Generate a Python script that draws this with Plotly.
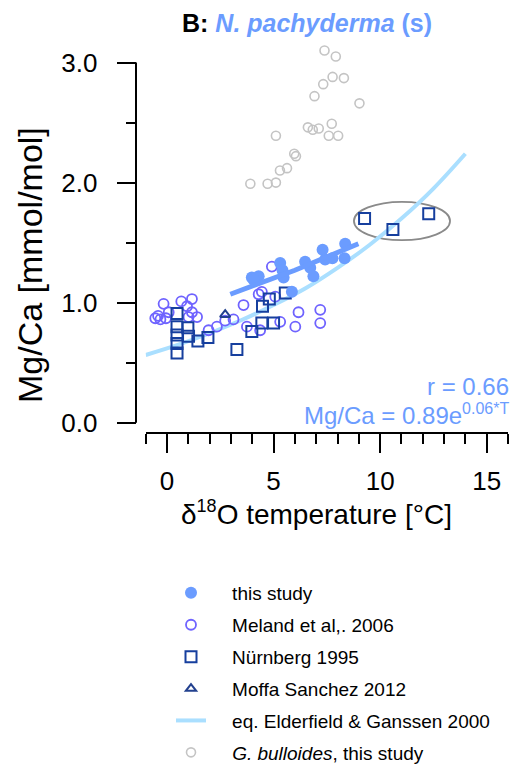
import plotly.graph_objects as go

# ---------------- data ----------------
this_study_T = [3.98, 4.30, 4.06, 5.31, 5.42, 5.47, 6.48, 6.72, 6.87, 7.30, 7.42, 7.76, 8.36, 8.33, 5.86]
this_study_MgCa = [1.21, 1.22, 1.19, 1.33, 1.27, 1.21, 1.34, 1.29, 1.22, 1.44, 1.36, 1.37, 1.49, 1.37, 1.09]

fit_T = [2.97, 6.0, 8.98]
fit_MgCa = [1.07, 1.27, 1.49]

meland_T = [-0.42, -0.55, -0.16, -0.31, 0.08, -0.05, 0.67, 1.17, 0.94, 1.17, 1.41, 1.01,
            1.95, 2.34, 2.73, 3.12, 3.59, 3.75, 4.45, 4.37, 5.31, 6.17, 6.02, 7.19, 7.19,
            4.92, 4.30, 5.08]
meland_MgCa = [0.89, 0.87, 0.99, 0.86, 0.92, 0.87, 1.01, 1.03, 0.97, 0.92, 0.88, 0.88,
               0.77, 0.80, 0.85, 0.86, 0.98, 0.80, 1.09, 0.77, 0.84, 0.92, 0.80, 0.94, 0.83,
               1.30, 1.07, 1.05]

nurnberg_T = [0.47, 0.47, 0.47, 0.47, 0.47, 0.98, 1.01, 1.45, 1.92, 3.28, 3.98, 4.45,
              5.00, 4.48, 4.80, 5.55, 9.27, 10.60, 12.28]
nurnberg_MgCa = [0.91, 0.80, 0.73, 0.66, 0.58, 0.79, 0.72, 0.68, 0.71, 0.61, 0.76, 0.83,
                 0.83, 0.97, 1.03, 1.08, 1.70, 1.61, 1.74]

moffa_T = [2.73]
moffa_MgCa = [0.90]

eg_T = [-1.0, 0.5, 2.0, 3.5, 5.0, 6.5, 8.0, 9.5, 11.0, 12.5, 14.0]
eg_MgCa = [0.564, 0.648, 0.745, 0.855, 0.98, 1.12, 1.29, 1.48, 1.70, 1.95, 2.24]

bulloides_T = [7.39, 7.92, 7.77, 8.30, 7.33, 6.92, 9.03, 7.73, 6.61, 6.84, 7.12, 7.59,
               8.03, 5.11, 5.97, 6.05, 5.30, 5.63, 3.91, 4.72, 5.11]
bulloides_MgCa = [3.10, 3.05, 2.88, 2.87, 2.82, 2.72, 2.66, 2.49, 2.46, 2.44, 2.45, 2.39,
                  2.39, 2.39, 2.24, 2.22, 2.10, 2.12, 1.99, 1.99, 2.00]

ellipse_T = [8.77, 13.28]
ellipse_MgCa = [1.52, 1.84]

x_ticks = [0, 5, 10, 15]
y_ticks = [0, 1, 2, 3]
y_ticktext = ["0.0", "1.0", "2.0", "3.0"]

legend_names = ["this study", "Meland et al,. 2006", "Nürnberg 1995", "Moffa Sanchez 2012",
                "eq. Elderfield &amp; Ganssen 2000", "<i>G. bulloides</i>, this study"]

# ---------------- colours ----------------
BLUE = "#6b9cff"
MELAND = "#6f63ff"
NURN = "#163f9e"
MOFFA = "#23418f"
EG = "#aadfff"
GRAY = "#c4c4c4"

FONT = "Liberation Sans, Arial, Helvetica, sans-serif"
PAD = "\u00a0" * 4  # gap between legend symbol and legend text
YPAD = "\u00a0" * 2  # gap between y tick labels and ticks


def lname(i):
    return PAD + legend_names[i]


fig = go.Figure()

fig.add_trace(go.Scatter(x=bulloides_T, y=bulloides_MgCa, mode="markers",
                         name=lname(5), legendrank=6, legendgroup="g6",
                         marker=dict(symbol="circle-open", size=9, color=GRAY, line=dict(width=1.6))))
fig.add_trace(go.Scatter(x=eg_T, y=eg_MgCa, mode="lines", line_shape="spline",
                         name=lname(4), legendrank=5, legendgroup="g5",
                         line=dict(color=EG, width=4)))
fig.add_trace(go.Scatter(x=meland_T, y=meland_MgCa, mode="markers",
                         name=lname(1), legendrank=2, legendgroup="g2",
                         marker=dict(symbol="circle-open", size=10, color=MELAND, line=dict(width=1.8))))
fig.add_trace(go.Scatter(x=moffa_T, y=moffa_MgCa, mode="markers",
                         name=lname(3), legendrank=4, legendgroup="g4",
                         marker=dict(symbol="triangle-up-open", size=9, color=MOFFA, line=dict(width=2))))
fig.add_trace(go.Scatter(x=nurnberg_T, y=nurnberg_MgCa, mode="markers",
                         name=lname(2), legendrank=3, legendgroup="g3",
                         marker=dict(symbol="square-open", size=11, color=NURN, line=dict(width=2))))
fig.add_trace(go.Scatter(x=this_study_T, y=this_study_MgCa, mode="markers",
                         name=lname(0), legendrank=1, legendgroup="g1",
                         marker=dict(symbol="circle", size=12, color=BLUE)))
fig.add_trace(go.Scatter(x=fit_T, y=fit_MgCa, mode="lines", showlegend=False,
                         line=dict(color=BLUE, width=5)))

W, H = 517, 765

fig.add_shape(type="circle", xref="x", yref="y",
              x0=ellipse_T[0], x1=ellipse_T[1], y0=ellipse_MgCa[0], y1=ellipse_MgCa[1],
              line=dict(color="#8a8a8a", width=1.8), layer="below")
# y axis line spanning only 0..3
fig.add_shape(type="line", xref="paper", yref="y", x0=136 / W, x1=136 / W,
              y0=y_ticks[0], y1=y_ticks[-1], line=dict(color="black", width=2))

fig.update_layout(
    template="none",
    width=W, height=H, margin=dict(l=0, r=0, t=0, b=0, pad=0, autoexpand=False),
    paper_bgcolor="white", plot_bgcolor="white",
    font=dict(family=FONT, color="black"),
    xaxis=dict(domain=[145.7 / W, 508 / W], range=[-1, 16], anchor="y", automargin=False,
               showline=True, linecolor="black", linewidth=2,
               showgrid=False, zeroline=False,
               tickmode="array", tickvals=x_ticks, ticks="outside", ticklen=19, tickwidth=2,
               tickcolor="black", tickfont=dict(size=26), ticklabelstandoff=6,
               minor=dict(tickmode="linear", tick0=0, dtick=1, ticks="outside", ticklen=10,
                          tickwidth=2, tickcolor="black", showgrid=False)),
    yaxis=dict(domain=[(H - 431.7) / H, (H - 32.5) / H], range=[-0.075, 3.25],
               anchor="free", position=136 / W, showline=False, automargin=False,
               showgrid=False, zeroline=False,
               tickmode="array", tickvals=y_ticks, ticktext=[t + YPAD for t in y_ticktext],
               ticks="outside", ticklen=19, tickwidth=2, tickcolor="black",
               tickfont=dict(size=26),
               minor=dict(tickmode="linear", tick0=0, dtick=0.5, ticks="outside", ticklen=10,
                          tickwidth=2, tickcolor="black", showgrid=False)),
    legend=dict(x=171 / W, y=(H - 574) / H, xanchor="left", yanchor="top",
                font=dict(size=19, family=FONT, color="black"),
                bgcolor="rgba(0,0,0,0)", tracegroupgap=4.2, itemwidth=30),
    showlegend=True,
)

fig.add_annotation(text="<b>B: </b><b><i><span style='color:%s'>N. pachyderma</span></i></b>"
                        "<b><span style='color:%s'> (s)</span></b>" % (BLUE, BLUE),
                   xref="paper", yref="paper", x=307 / W, y=(H - 23) / H,
                   xanchor="center", yanchor="middle", showarrow=False,
                   font=dict(size=25, family=FONT, color="black"))
fig.add_annotation(text="δ<sup><span style='font-size:18px'>18</span></sup>O temperature [°C]",
                   xref="paper", yref="paper",
                   x=316 / W, y=(H - 513) / H, xanchor="center", yanchor="middle",
                   showarrow=False, font=dict(size=28, family=FONT, color="black"))
fig.add_annotation(text="Mg/Ca [mmol/mol]", xref="paper", yref="paper", textangle=-90,
                   x=30 / W, y=(H - 265) / H, xanchor="center", yanchor="middle",
                   showarrow=False, font=dict(size=34, family=FONT, color="black"))
fig.add_annotation(text="r = 0.66", xref="paper", yref="paper",
                   x=511 / W, y=(H - 386) / H, xanchor="right", yanchor="middle",
                   showarrow=False, font=dict(size=24, family=FONT, color=BLUE))
fig.add_annotation(text="Mg/Ca = 0.89e<sup><span style='font-size:16px'>0.06*T</span></sup>",
                   xref="paper", yref="paper",
                   x=511 / W, y=(H - 414) / H, xanchor="right", yanchor="middle",
                   showarrow=False, font=dict(size=24, family=FONT, color=BLUE))

fig.write_html("out.html")
